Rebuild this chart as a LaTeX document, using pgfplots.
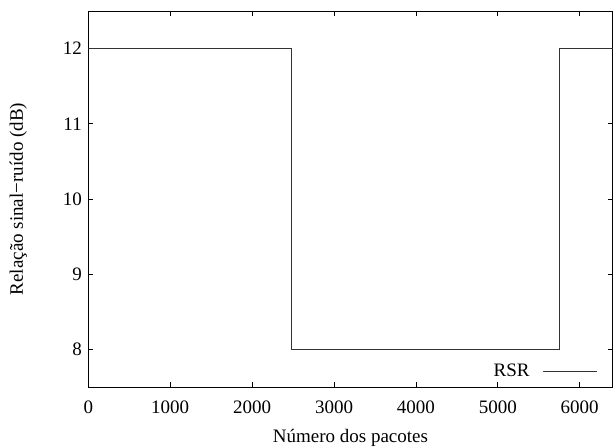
\documentclass[border=0pt]{standalone}
\usepackage{pgfplots}
\pgfplotsset{compat=1.18}
\usepackage{fontspec}
\setmainfont{Liberation Serif}
\usetikzlibrary{calc}
\begin{document}
\fontsize{19bp}{23bp}\selectfont
\begin{tikzpicture}
\begin{axis}[
  scale only axis, width=524bp, height=376bp,
  xmin=0, xmax=6400, ymin=7.5, ymax=12.5,
  xtick={0,1000,2000,3000,4000,5000,6000},
  ytick={8,9,10,11,12},
  tick align=inside, major tick length=5bp,
  /pgf/number format/assume math mode=true,
  /pgf/number format/1000 sep={},
  xticklabel style={yshift=-7bp},
  axis line style={line width=0.8bp},
  tick style={line width=0.8bp, black},
  xlabel={Número dos pacotes},
  ylabel={Relação sinal−ruído (dB)},
  every axis x label/.style={at={(axis description cs:0.5,0)}, anchor=center, yshift=-51bp},
  every axis y label/.style={at={(axis description cs:-0.1336,0.5)}, anchor=center, rotate=90},
  legend plot pos=right,
  legend style={draw=none, fill=none, at={(rel axis cs:0.9776,0.0097)}, anchor=south east,
    font=\fontsize{19bp}{23bp}\selectfont,
    /tikz/every odd column/.append style={column sep=11bp}},
  legend image code/.code={\draw[#1] (0bp,0bp) -- (54bp,0bp);},
]
\addplot[line width=1bp, black!80] coordinates {
  (0,12) (2484,12) (2484,8) (5752,8) (5752,12) (6400,12)
};
\addlegendentry{RSR}
\end{axis}
\pgfresetboundingbox
\path ($(current axis.south west)+(-88.3bp,-59bp)$) rectangle ($(current axis.north east)+(0.5bp,11bp)$);
\end{tikzpicture}
\end{document}
